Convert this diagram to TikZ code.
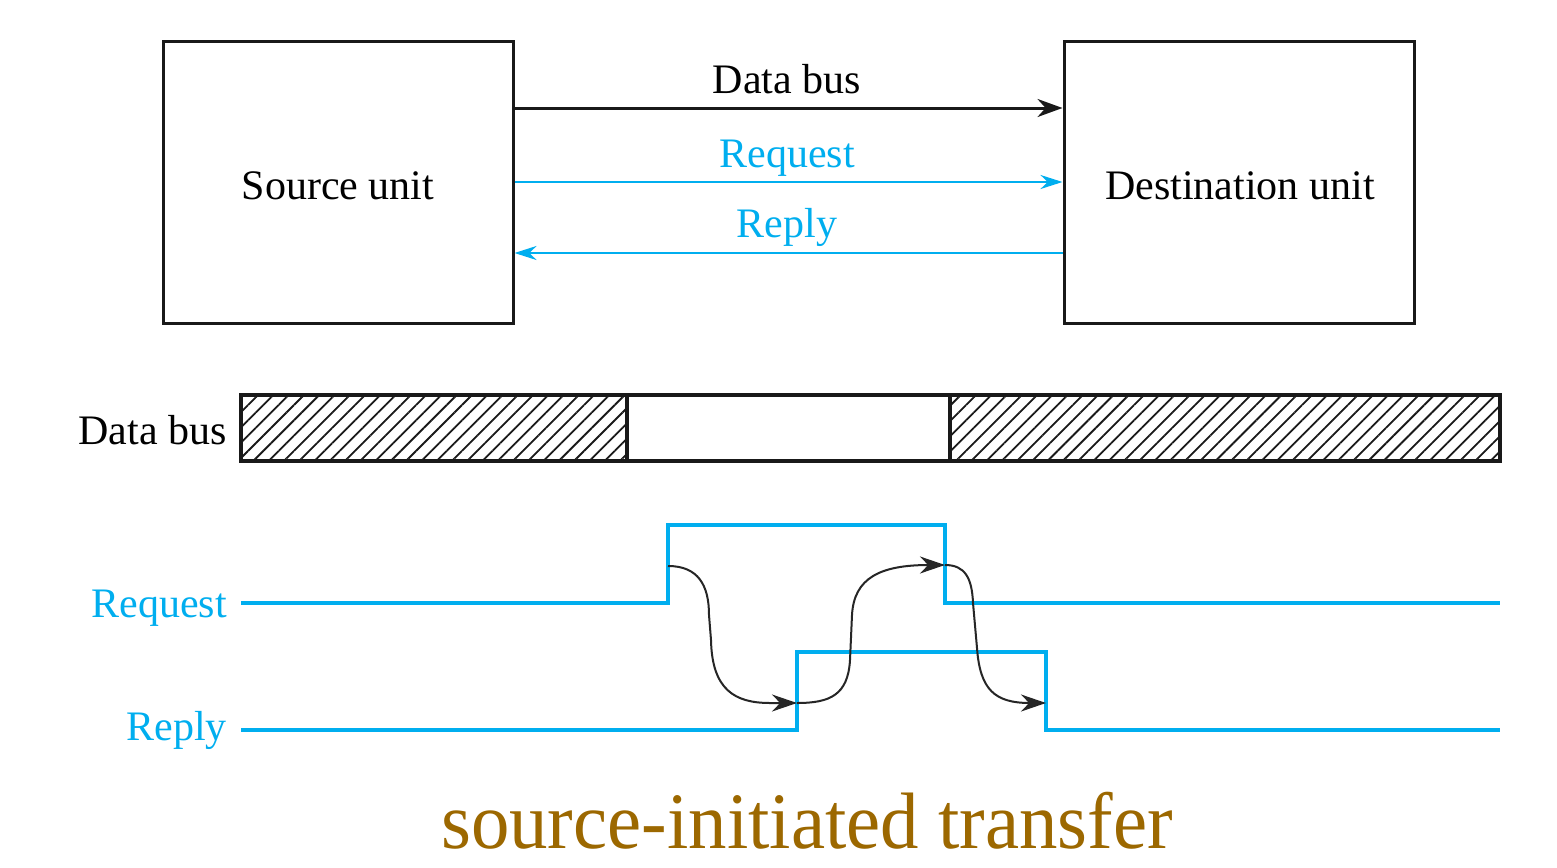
\documentclass[tikz,border=0pt]{standalone}
\usepackage{fontspec}
\setmainfont{Liberation Serif}
\usetikzlibrary{arrows.meta,patterns.meta}
\definecolor{cy}{RGB}{0,174,239}
\definecolor{capcol}{RGB}{156,104,0}
\tikzset{
  lbl/.style={font=\fontsize{42}{50}\selectfont, inner sep=0pt},
  unitbox/.style={draw=black!90, line width=3pt, minimum width=350pt, minimum height=281pt},
  busline/.style={line width=3pt, black!90, -{Stealth[length=25pt,width=18pt]}},
  ctlline/.style={line width=2pt, cy, -{Stealth[length=22pt,width=14pt]}},
  wave/.style={line width=4pt, cy},
  hatched/.style={draw=black!90, line width=4pt, inner sep=0pt, minimum height=66pt,
    pattern={Lines[angle=45,distance=10.8pt,line width=1.8pt]}, pattern color=black!90},
  plain/.style={draw=black!90, line width=4pt, inner sep=0pt, minimum height=66pt, fill=white},
  causal/.style={line width=2pt, black!85, -{Stealth[length=25pt,width=17pt]}},
}
\begin{document}
\begin{tikzpicture}[x=1pt,y=-1pt]
\useasboundingbox (0,0) rectangle (1557,867);
\fill[white] (0,0) rectangle (1557,867);

% units
\node[unitbox] (src) at (338,182.5) {};
\node[unitbox] (dst) at (1239,182.5) {};
\node[lbl, anchor=base] (srct) at (338,199) {Source unit};
\node[lbl, anchor=base] (dstt) at (1240,199) {Destination unit};

% bus connectors
\draw[busline] (src.east |- 0,108) -- (dst.west |- 0,108);
\draw[ctlline] (src.east |- 0,182) -- (dst.west |- 0,182);
\draw[ctlline] (dst.west |- 0,253) -- (src.east |- 0,253);
\node[lbl, anchor=base] (tbus) at (787,93) {Data bus};
\node[lbl, anchor=base, text=cy] (treq) at (787,167) {Request};
\node[lbl, anchor=base, text=cy] (trep) at (787,237) {Reply};

% data bus bar
\node[hatched, minimum width=386pt] (h1) at (434,428) {};
\node[plain, minimum width=323pt] (w1) at (788.5,428) {};
\node[hatched, minimum width=550pt] (h2) at (1225,428) {};
\node[lbl, anchor=base east] (ldbus) at (227,444) {Data bus};

% waveforms
\node[lbl, anchor=base east, text=cy] (lreq) at (227,617) {Request};
\node[lbl, anchor=base east, text=cy] (lrep) at (227,740) {Reply};
\coordinate (r0) at (241,603);
\coordinate (r1) at (668,603);
\coordinate (r2) at (668,525);
\coordinate (r3) at (945,525);
\coordinate (r4) at (945,603);
\coordinate (r5) at (1500,603);
\coordinate (p0) at (241,730);
\coordinate (p1) at (797,730);
\coordinate (p2) at (797,652);
\coordinate (p3) at (1046,652);
\coordinate (p4) at (1046,730);
\coordinate (p5) at (1500,730);
\draw[wave] (r0) -- (r1) -- (r2) -- (r3) -- (r4) -- (r5);
\draw[wave] (p0) -- (p1) -- (p2) -- (p3) -- (p4) -- (p5);

% causality arrows
\coordinate (a1) at (668,566);
\coordinate (b1) at (797,703);
\coordinate (a2) at (945,565);
\coordinate (b2) at (1046,703);
\draw[causal] (a1) .. controls (698,566) and (709,585) .. (709,615) -- (711,640)
  .. controls (712,690) and (735,703) .. (770,703) -- (b1);
\draw[causal] (b1) .. controls (830,703) and (848,695) .. (850,660) -- (852,615)
  .. controls (854,578) and (880,565) .. (a2);
\draw[causal] (a2) .. controls (965,565) and (972,578) .. (973,603) -- (977,648)
  .. controls (980,690) and (995,703) .. (b2);

% caption
\node[anchor=base, text=capcol, inner sep=0pt, font=\fontsize{80}{90}\selectfont, xscale=0.96] (cap) at (807,848) {source-initiated transfer};
\end{tikzpicture}
\end{document}
